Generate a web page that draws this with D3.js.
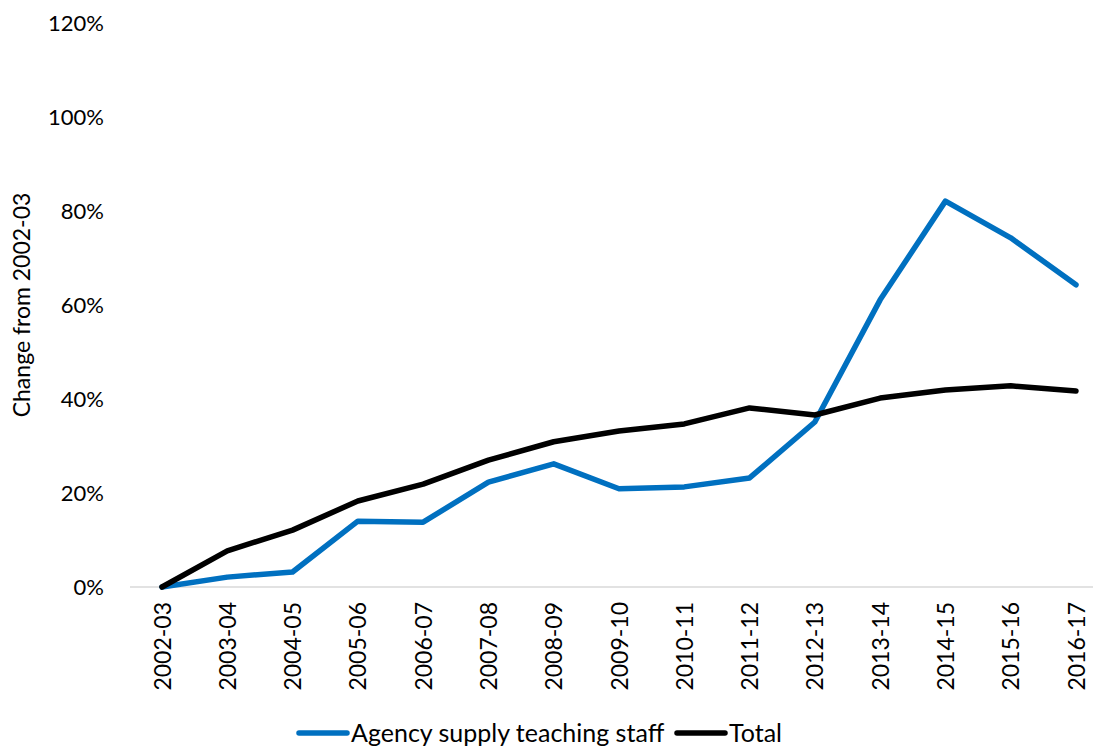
<!DOCTYPE html>
<html>
<head>
<meta charset="utf-8">
<script src="https://cdn.jsdelivr.net/npm/d3@7"></script>
<style>
  body { margin: 0; background: #fff; }
  svg { font-family: Lato, "Open Sans", sans-serif; }
</style>
</head>
<body>
<svg width="1093" height="749"></svg>
<script>
const years = ["2002-03","2003-04","2004-05","2005-06","2006-07","2007-08","2008-09","2009-10",
  "2010-11","2011-12","2012-13","2013-14","2014-15","2015-16","2016-17"];
const agency = [0, 2.1, 3.2, 14.0, 13.8, 22.3, 26.2, 20.9, 21.3, 23.2, 35.1, 61.1, 82.1, 74.3, 64.3];
const total = [0, 7.7, 12.1, 18.3, 21.9, 27.0, 30.9, 33.2, 34.7, 38.1, 36.6, 40.2, 41.9, 42.8, 41.7];
const yTicks = [0, 20, 40, 60, 80, 100, 120];

let svg = d3.select("svg");

let x = d3.scalePoint()
  .domain(years)
  .range([162, 1076]);

let y = d3.scaleLinear()
  .domain([0, 120])
  .range([587, 23]);

// baseline
svg.append("line")
  .attr("x1", 130).attr("x2", 1093)
  .attr("y1", y(0)).attr("y2", y(0))
  .attr("stroke", "#d9d9d9")
  .attr("stroke-width", 1.5);

// y axis labels
let yAxis = d3.axisLeft(y).tickValues(yTicks).tickFormat(d => d + "%").tickSize(0).tickPadding(0);
let gy = svg.append("g")
  .attr("transform", "translate(104,0)")
  .call(yAxis);
gy.select(".domain").remove();
gy.selectAll("text")
  .attr("font-size", 22)
  .attr("fill", "#000")
  .attr("font-family", "Lato, sans-serif");

// x axis labels
let xAxis = d3.axisBottom(x).tickSize(0).tickPadding(0);
let gx = svg.append("g")
  .attr("transform", "translate(0,587)")
  .call(xAxis);
gx.select(".domain").remove();
gx.selectAll("text")
  .attr("font-size", 23)
  .attr("fill", "#000")
  .attr("font-family", "Lato, sans-serif")
  .attr("text-anchor", "end")
  .attr("dy", "0.35em")
  .attr("transform", "translate(0,15) rotate(-90)")
  .attr("x", 0).attr("y", 0);

// axis title
svg.append("text")
  .attr("transform", "translate(30,305) rotate(-90)")
  .attr("text-anchor", "middle")
  .attr("font-size", 23)
  .text("Change from 2002-03");

let line = d3.line()
  .x((d, i) => x(years[i]))
  .y(d => y(d));

let series = [
  {name: "Agency supply teaching staff", values: agency, color: "#0070C0"},
  {name: "Total", values: total, color: "#000000"}
];

series.forEach(s => {
  svg.append("path")
    .datum(s.values)
    .attr("fill", "none")
    .attr("stroke", s.color)
    .attr("stroke-width", 5.5)
    .attr("stroke-linejoin", "round")
    .attr("stroke-linecap", "round")
    .attr("d", line);
});

// legend
let legendPos = [297, 675];
series.forEach((s, i) => {
  let g = svg.append("g").attr("transform", "translate(" + legendPos[i] + ",733)");
  g.append("line")
    .attr("x1", 2).attr("x2", 50)
    .attr("stroke", s.color)
    .attr("stroke-width", 5.5)
    .attr("stroke-linecap", "round");
  g.append("text")
    .attr("x", 54)
    .attr("dy", "0.35em")
    .attr("font-size", 25)
    .text(s.name);
});
</script>
</body>
</html>
